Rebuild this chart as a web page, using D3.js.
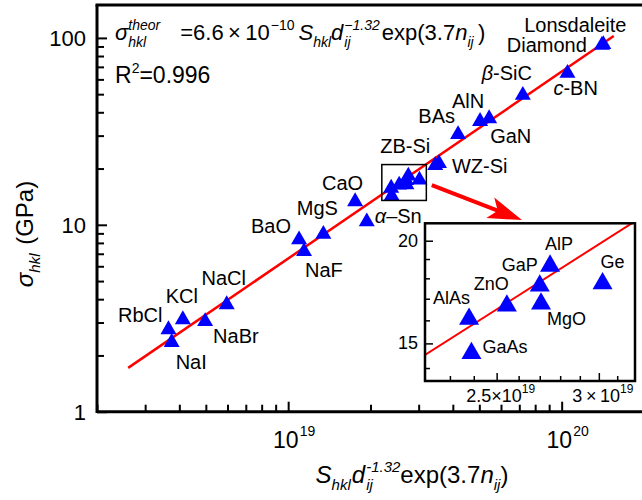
<!DOCTYPE html>
<html>
<head>
<meta charset="utf-8">
<script src="https://cdnjs.cloudflare.com/ajax/libs/d3/7.8.5/d3.min.js"></script>
<style>
body { margin: 0; background: #fff; }
text { font-family: "Liberation Sans", Arial, sans-serif; fill: #000; }
</style>
</head>
<body>
<div id="chart"></div>
<script>
    // main plot points
    var materials = ["RbCl", "NaI", "KCl", "NaBr", "NaCl", "BaO", "NaF", "MgS", "CaO", "α–Sn",
                     "ZB-Si", "WZ-Si", "BAs", "AlN", "GaN", "β-SiC", "c-BN", "Diamond", "Lonsdaleite"];
    var xValues = [3.65e18, 3.75e18, 4.12e18, 4.97e18, 5.96e18, 1.096e19, 1.143e19, 1.345e19, 1.757e19, 1.938e19,
                   3.45e19, 3.56e19, 4.18e19, 5.03e19, 5.43e19, 7.21e19, 1.05e20, 1.403e20, 1.42e20];
    var hardness = [2.83, 2.42, 3.20, 3.13, 3.85, 8.56, 7.41, 9.17, 13.7, 10.7,
                    21.4, 21.9, 31.3, 36.8, 38.1, 50.8, 66.6, 94.0, 95.0];

    // points inside the zoom box
    var insetMaterials = ["AlAs", "GaAs", "ZnO", "MgO", "GaP", "AlP", "Ge"];
    var insetX = [2.38e19, 2.39e19, 2.546e19, 2.706e19, 2.70e19, 2.75e19, 3.02e19];
    var insetHardness = [16.19, 14.71, 16.8, 16.9, 17.77, 18.79, 17.88];

    // fit sigma = k * X
    var fitCoef = 6.6e-19;
    var fitRange = [2.6e18, 1.55e20];

    var mainXLabels = [1e19, 1e20];
    var mainYLabels = [1, 10, 100];
    var insetXTicks = [2.3e19, 2.4e19, 2.5e19, 2.6e19, 2.7e19, 2.8e19, 2.9e19, 3.0e19, 3.1e19];
    var insetXLabels = [2.5e19, 3e19];
    var insetYTicks = [14, 15, 16, 17, 18, 19, 20];
    var insetYLabels = [15, 20];

    // arrow from box to inset, in main data units
    var arrowFrom = [3.35e19, 16.3];
    var arrowTo = [7.16e19, 10.6];

    // label placement: anchor, dx, dy (px from marker)
    var labelPos = {
        "RbCl": ["end", -6, -5], "NaI": ["start", 4, 29], "KCl": ["middle", -1, -14],
        "NaBr": ["start", 8, 24], "NaCl": ["middle", -3, -17], "BaO": ["end", -8, -4],
        "NaF": ["start", 1, 28], "MgS": ["middle", -6, -17], "CaO": ["end", 8, -9],
        "α–Sn": ["start", 8, 4], "ZB-Si": ["end", -5, -10], "WZ-Si": ["start", 13, 12],
        "BAs": ["end", -3, -9], "AlN": ["middle", -12, -11], "GaN": ["start", 1, 27],
        "β-SiC": ["middle", -16, -13], "c-BN": ["start", -14, 24], "Diamond": ["end", -15, 9],
        "Lonsdaleite": ["middle", -28, -10],
        "AlAs": ["end", 1, -12], "GaAs": ["start", 11, 3], "ZnO": ["end", 2, -13],
        "MgO": ["start", 6, 24], "GaP": ["end", -2, -12], "AlP": ["middle", 9, -13],
        "Ge": ["start", -2, -13]
    };
    var italicPrefix = {"α–Sn": "α", "β-SiC": "β", "c-BN": "c"};

    var w = 642, h = 500;
    var svg = d3.select("#chart").append("svg").attr("width", w).attr("height", h);

    var x = d3.scaleLog().domain([2e18, 2e20]).range([97, 644]);
    var y = d3.scaleLog().domain([1, 150]).range([411.7, 5]);
    var xi = d3.scaleLog().domain([2.2e19, 3.2e19]).range([425, 635]);
    var yi = d3.scaleLog().domain([13.5, 21]).range([381, 223.3]);

    // text made of pieces (sub/superscripts), positioned by measuring
    function rich(parent, px, py, parts, anchor, rotate) {
        var g = parent.append("g");
        var cx = 0, pending = 0;
        parts.forEach(function(p) {
            cx += p.gap || 0;
            var t = g.append("text").attr("x", cx).attr("y", p.dy || 0)
                     .attr("font-size", p.size)
                     .attr("font-style", p.it ? "italic" : null)
                     .text(p.t);
            var tw = t.node().getComputedTextLength();
            if (p.stack) { pending = tw; }
            else { cx += Math.max(tw, pending); pending = 0; }
        });
        var shift = anchor === "middle" ? -cx / 2 : (anchor === "end" ? -cx : 0);
        g.attr("transform", "translate(" + px + "," + py + ")" + (rotate ? " rotate(" + rotate + ")" : "") +
               " translate(" + shift + ",0)");
        return g;
    }

    function triangle(s) {
        var th = s * 0.866;
        return "M0," + (-th / 2) + "L" + (s / 2) + "," + (th / 2) + "L" + (-s / 2) + "," + (th / 2) + "Z";
    }

    function addLabel(parent, name, px, py, size) {
        var p = labelPos[name];
        var t = parent.append("text").attr("x", px + p[1]).attr("y", py + p[2])
                      .attr("text-anchor", p[0]).attr("font-size", size);
        if (italicPrefix[name]) {
            t.append("tspan").attr("font-style", "italic").text(italicPrefix[name]);
            t.append("tspan").text(name.slice(italicPrefix[name].length));
        } else {
            t.text(name);
        }
    }

    // ----- main axes -----
    var yAxis = svg.append("g").attr("transform", "translate(97,0)")
        .call(d3.axisLeft(y).tickValues(y.ticks()).tickFormat("").tickSizeOuter(0));
    yAxis.selectAll(".tick line").attr("stroke-width", 2)
        .attr("x2", function(d) { return mainYLabels.indexOf(d) >= 0 ? 10 : 7; });

    var xAxis = svg.append("g").attr("transform", "translate(0,411.7)")
        .call(d3.axisBottom(x).tickValues(x.ticks()).tickFormat("").tickSizeOuter(0));
    xAxis.selectAll(".tick line").attr("stroke-width", 2)
        .attr("y2", function(d) { return mainXLabels.indexOf(d) >= 0 ? -10 : -7; });

    svg.selectAll(".domain").remove();
    svg.append("line").attr("x1", 97).attr("x2", 644).attr("y1", 411.7).attr("y2", 411.7)
       .attr("stroke", "#000").attr("stroke-width", 3);
    svg.append("line").attr("x1", 97).attr("x2", 97).attr("y1", 5).attr("y2", 413)
       .attr("stroke", "#000").attr("stroke-width", 3);
    svg.append("line").attr("x1", 95.5).attr("x2", 644).attr("y1", 5).attr("y2", 5)
       .attr("stroke", "#000").attr("stroke-width", 3);

    mainYLabels.forEach(function(v) {
        svg.append("text").attr("x", 86).attr("y", y(v) + 8)
           .attr("text-anchor", "end").attr("font-size", 22).text(v);
    });
    mainXLabels.forEach(function(v) {
        rich(svg, x(v) + 6, 448, [
            {t: "10", size: 23},
            {t: String(Math.round(Math.log10(v))), size: 14, dy: -12, gap: 1}
        ], "middle");
    });

    // axis titles
    rich(svg, 412, 483, [
        {t: "S", size: 24, it: true},
        {t: "hkl", size: 15, it: true, dy: 7},
        {t: "d", size: 24, it: true, gap: 1},
        {t: "ij", size: 15, it: true, dy: 7, stack: true, gap: 1},
        {t: "-1.32", size: 15, it: true, dy: -11},
        {t: "exp(3.7", size: 24},
        {t: "n", size: 24, it: true},
        {t: "ij", size: 15, it: true, dy: 7},
        {t: ")", size: 24}
    ], "middle");

    rich(svg, 33, 234, [
        {t: "σ", size: 24, it: true},
        {t: "hkl", size: 15, it: true, dy: 7},
        {t: "\u00a0(GPa)", size: 24, gap: 2}
    ], "middle", -90);

    // equation + R²
    rich(svg, 115, 40, [
        {t: "σ", size: 22, it: true},
        {t: "theor", size: 14, it: true, dy: -10, stack: true},
        {t: "hkl", size: 14, it: true, dy: 7},
        {t: "=6.6\u2009×\u200910", size: 22, gap: 20},
        {t: "−10", size: 14, dy: -10, gap: 1},
        {t: "S", size: 22, it: true, gap: 4},
        {t: "hkl", size: 14, it: true, dy: 7},
        {t: "d", size: 22, it: true},
        {t: "ij", size: 14, it: true, dy: 7, stack: true, gap: 1},
        {t: "−1.32", size: 14, it: true, dy: -10},
        {t: "exp(3.7", size: 22, gap: 2},
        {t: "n", size: 22, it: true},
        {t: "ij", size: 14, it: true, dy: 7},
        {t: "\u2009)", size: 22}
    ], "start");

    rich(svg, 115, 83, [
        {t: "R", size: 23},
        {t: "2", size: 14, dy: -10},
        {t: "=0.996", size: 23}
    ], "start");

    // ----- fit line -----
    var line = d3.line().x(function(d) { return x(d); }).y(function(d) { return y(fitCoef * d); });
    svg.append("path").attr("d", line(fitRange))
       .attr("stroke", "#ff0000").attr("stroke-width", 2.5).attr("fill", "none");

    // ----- main points -----
    var allX = xValues.concat(insetX);
    var allY = hardness.concat(insetHardness);
    svg.append("g").selectAll("path").data(allX).enter().append("path")
       .attr("d", triangle(16))
       .attr("transform", function(d, i) { return "translate(" + x(d) + "," + y(allY[i]) + ")"; })
       .attr("fill", "#0000ff");

    materials.forEach(function(m, i) {
        addLabel(svg, m, x(xValues[i]), y(hardness[i]), 20);
    });

    // zoom box
    svg.append("rect").attr("x", x(2.2e19)).attr("y", y(21))
       .attr("width", x(3.2e19) - x(2.2e19)).attr("height", y(13.5) - y(21))
       .attr("fill", "none").attr("stroke", "#000").attr("stroke-width", 1.5);

    // arrow
    var ax0 = x(arrowFrom[0]), ay0 = y(arrowFrom[1]), ax1 = x(arrowTo[0]), ay1 = y(arrowTo[1]);
    var ang = Math.atan2(ay1 - ay0, ax1 - ax0) * 180 / Math.PI;
    var alen = Math.sqrt((ax1 - ax0) * (ax1 - ax0) + (ay1 - ay0) * (ay1 - ay0));
    var arrow = svg.append("g").attr("transform", "translate(" + ax0 + "," + ay0 + ") rotate(" + ang + ")");
    arrow.append("line").attr("x1", 0).attr("y1", 0).attr("x2", alen - 24).attr("y2", 0)
         .attr("stroke", "#ff0000").attr("stroke-width", 4);
    arrow.append("path")
         .attr("d", "M" + alen + ",0L" + (alen - 34) + ",-11L" + (alen - 26) + ",0L" + (alen - 34) + ",11Z")
         .attr("fill", "#ff0000");

    // ----- inset -----
    var inset = svg.append("g");
    inset.append("rect").attr("x", 425).attr("y", 223.3).attr("width", 210).attr("height", 157.7)
         .attr("fill", "#fff");
    inset.append("clipPath").attr("id", "insetClip").append("rect")
         .attr("x", 425).attr("y", 223.3).attr("width", 210).attr("height", 157.7);

    var iyAxis = inset.append("g").attr("transform", "translate(425,0)")
        .call(d3.axisLeft(yi).tickValues(insetYTicks).tickFormat("").tickSizeOuter(0));
    iyAxis.selectAll(".tick line").attr("stroke-width", 1.5)
        .attr("x2", function(d) { return insetYLabels.indexOf(d) >= 0 ? 8 : 5; });
    var ixAxis = inset.append("g").attr("transform", "translate(0,381)")
        .call(d3.axisBottom(xi).tickValues(insetXTicks).tickFormat("").tickSizeOuter(0));
    ixAxis.selectAll(".tick line").attr("stroke-width", 1.5)
        .attr("y2", function(d) { return insetXLabels.indexOf(d) >= 0 ? -8 : -5; });
    inset.selectAll(".domain").remove();

    inset.append("path").attr("d", d3.line().x(function(d) { return xi(d); })
                                            .y(function(d) { return yi(fitCoef * d); })(xi.domain()))
         .attr("clip-path", "url(#insetClip)")
         .attr("stroke", "#ff0000").attr("stroke-width", 2).attr("fill", "none");

    inset.append("rect").attr("x", 425).attr("y", 223.3).attr("width", 210).attr("height", 157.7)
         .attr("fill", "none").attr("stroke", "#000").attr("stroke-width", 2.5);

    insetYLabels.forEach(function(v) {
        inset.append("text").attr("x", 418).attr("y", yi(v) + 6)
             .attr("text-anchor", "end").attr("font-size", 18).text(v);
    });
    insetXLabels.forEach(function(v) {
        var mant = v / 1e19;
        rich(inset, xi(v) + 4, 401.7, [
            {t: (mant % 1 ? mant.toFixed(1) : mant) + (mant % 1 ? "×" : "\u2009×\u2009") + "10", size: 18},
            {t: "19", size: 12, dy: -9}
        ], "middle");
    });

    inset.append("g").selectAll("path").data(insetX).enter().append("path")
         .attr("d", triangle(20))
         .attr("transform", function(d, i) { return "translate(" + xi(d) + "," + yi(insetHardness[i]) + ")"; })
         .attr("fill", "#0000ff");

    insetMaterials.forEach(function(m, i) {
        addLabel(inset, m, xi(insetX[i]), yi(insetHardness[i]), 18);
    });
</script>
</body>
</html>
